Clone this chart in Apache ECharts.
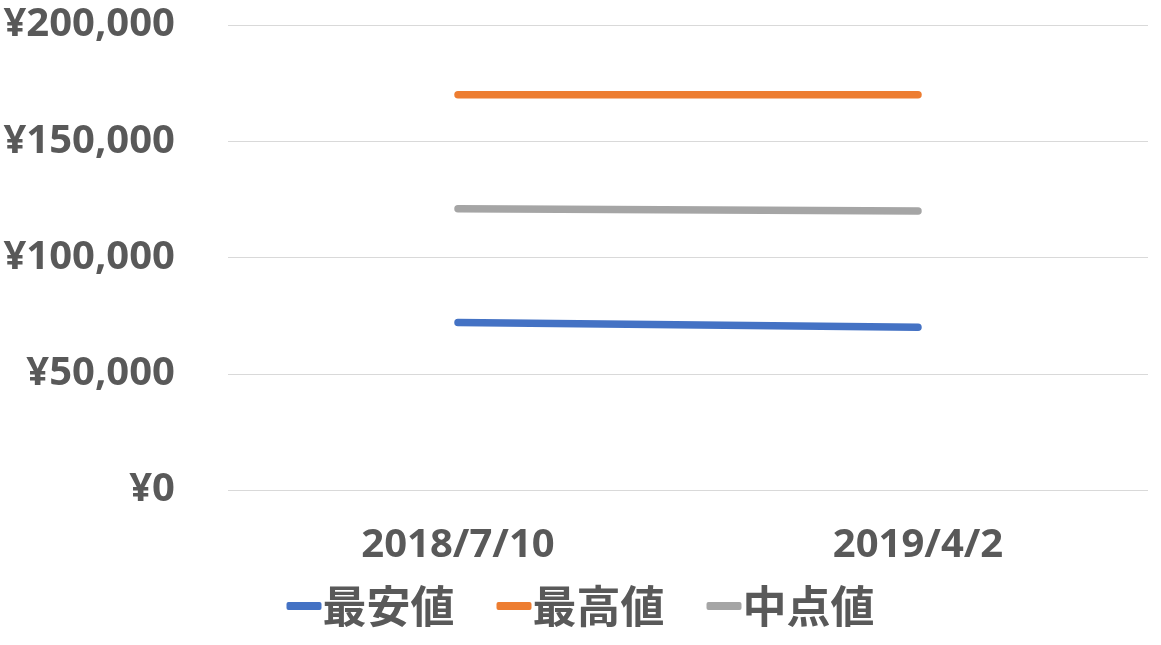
<!DOCTYPE html>
<html>
<head>
<meta charset="utf-8">
<script src="https://cdn.jsdelivr.net/npm/echarts@6/dist/echarts.min.js"></script>
<style>
html,body{margin:0;padding:0;background:#fff;}
#chart{width:1161px;height:645px;}
</style>
</head>
<body>
<div id="chart"></div>
<script>
const categories = ['2018/7/10', '2019/4/2'];
const seriesNames = ['最安値', '最高値', '中点値'];
const minValues = [72000, 70000];
const maxValues = [170000, 170000];
const midValues = [121000, 120000];
const colors = ['#4472C4', '#ED7D31', '#A5A5A5'];

const chart = echarts.init(document.getElementById('chart'));
const dataSets = [minValues, maxValues, midValues];
const textColor = '#595959';
const latin = '"Noto Sans", "Noto Sans CJK JP", sans-serif';

chart.setOption({
  animation: false,
  grid: { left: 228, right: 13, top: 25, bottom: 155, containLabel: false },
  legend: {
    bottom: 12,
    left: 'center',
    itemWidth: 35,
    itemHeight: 8,
    itemGap: 42,
    icon: 'roundRect',
    textStyle: { fontSize: 44, fontWeight: 'bold', color: textColor, fontFamily: '"Noto Sans CJK JP", sans-serif', padding: [0, 0, 0, -4] },
    data: seriesNames
  },
  xAxis: {
    type: 'category',
    data: categories,
    boundaryGap: true,
    axisLine: { show: false },
    axisTick: { show: false },
    axisLabel: { margin: 36, fontSize: 40, fontWeight: 'bold', color: textColor, fontFamily: latin }
  },
  yAxis: {
    type: 'value',
    min: 0,
    max: 200000,
    interval: 50000,
    axisLine: { show: false },
    axisTick: { show: false },
    splitLine: { lineStyle: { color: '#D9D9D9', width: 1 } },
    axisLabel: {
      margin: 53,
      fontSize: 40,
      fontWeight: 'bold',
      color: textColor,
      fontFamily: latin,
      formatter: v => '¥' + v.toLocaleString('en-US')
    }
  },
  series: seriesNames.map((name, i) => ({
    name,
    type: 'line',
    data: dataSets[i],
    showSymbol: false,
    symbol: 'none',
    color: colors[i],
    lineStyle: { width: 7.5, color: colors[i], cap: 'round' }
  }))
});
</script>
</body>
</html>
